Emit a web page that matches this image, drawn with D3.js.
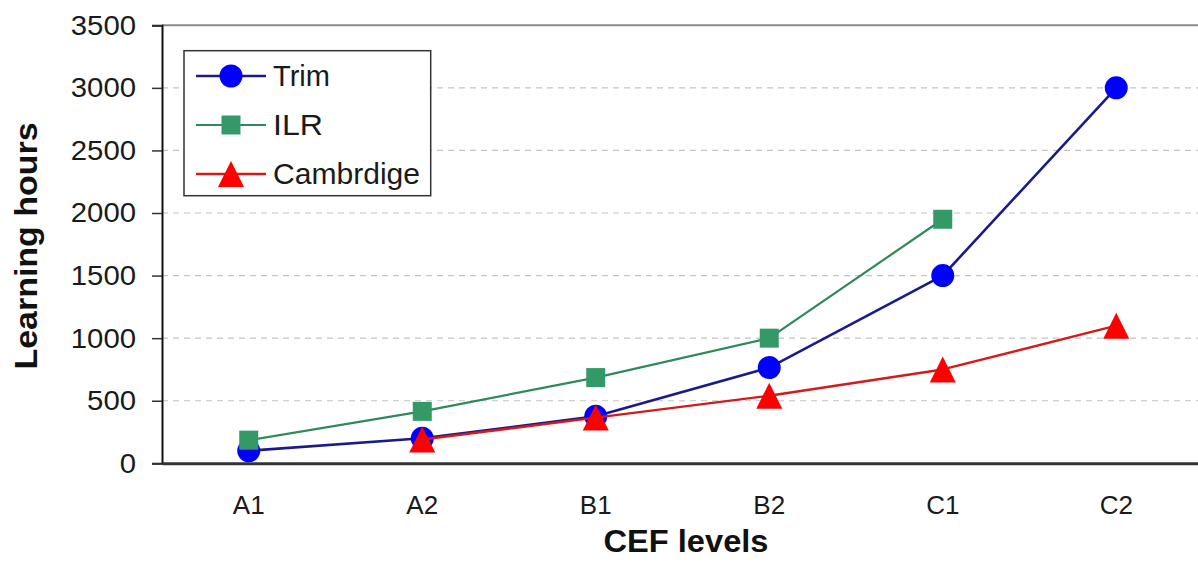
<!DOCTYPE html>
<html>
<head>
<meta charset="utf-8">
<script src="https://cdn.jsdelivr.net/npm/d3@7"></script>
<style>
  html, body { margin: 0; padding: 0; background: #fff; }
  svg { display: block; font-family: "Liberation Sans", Arial, sans-serif; }
</style>
</head>
<body>
<svg id="chart" width="1198" height="562"></svg>
<script>
const categories = ["A1", "A2", "B1", "B2", "C1", "C2"];
const trim = [100, 200, 375, 765, 1500, 3000];
const ilr = [185, 415, 685, 1000, 1950, null];
const cambridge = [null, 190, 365, 540, 750, 1100];
const yTicks = [0, 500, 1000, 1500, 2000, 2500, 3000, 3500];
const seriesNames = ["Trim", "ILR", "Cambrdige"];

(function () {
const svg = d3.select("#chart");
const plotL = 162, plotR = 1203, plotT = 25.3, plotB = 463.3;

const x = d3.scaleBand().domain(categories).range([plotL, plotR]);
const y = d3.scaleLinear().domain([0, 3500]).range([plotB, plotT]);
const cx = c => x(c) + x.bandwidth() / 2;

// gridlines
svg.append("g").selectAll("line")
  .data(yTicks.filter(t => t > 0 && t < 3500))
  .join("line")
  .attr("x1", plotL).attr("x2", 1198)
  .attr("y1", d => y(d)).attr("y2", d => y(d))
  .attr("stroke", "#c4c4c4").attr("stroke-width", 1.2)
  .attr("stroke-dasharray", "6,5");

// top border
svg.append("line")
  .attr("x1", plotL).attr("x2", 1198)
  .attr("y1", y(3500)).attr("y2", y(3500))
  .attr("stroke", "#8a8a8a").attr("stroke-width", 2);

// y axis
const yAxis = d3.axisLeft(y).tickValues(yTicks).tickSize(10).tickPadding(16).tickFormat(d3.format("d"));
const gy = svg.append("g").attr("transform", `translate(${plotL},0)`).call(yAxis);
gy.select(".domain").attr("stroke", "#111").attr("stroke-width", 2);
gy.selectAll(".tick line").attr("stroke", "#333").attr("stroke-width", 1.5);
gy.selectAll(".tick text").attr("font-size", 28).attr("fill", "#1a1a1a")
  .attr("font-family", "Liberation Sans, Arial, sans-serif")
  .attr("textLength", d => String(d).length * 16.3).attr("lengthAdjust", "spacingAndGlyphs");

// x axis
const xAxis = d3.axisBottom(x).tickSize(0).tickPadding(32);
const gx = svg.append("g").attr("transform", `translate(0,${plotB})`).call(xAxis);
gx.select(".domain").attr("stroke", "#333").attr("stroke-width", 3);
gx.selectAll(".tick text").attr("font-size", 26).attr("fill", "#1a1a1a")
  .attr("font-family", "Liberation Sans, Arial, sans-serif");

// axis titles
svg.append("text")
  .attr("x", 686).attr("y", 552)
  .attr("text-anchor", "middle")
  .attr("font-size", 31).attr("font-weight", "bold").attr("fill", "#111")
  .attr("textLength", 165).attr("lengthAdjust", "spacingAndGlyphs")
  .text("CEF levels");
svg.append("text")
  .attr("transform", "translate(37,246) rotate(-90)")
  .attr("text-anchor", "middle")
  .attr("font-size", 31).attr("font-weight", "bold").attr("fill", "#111")
  .attr("textLength", 247).attr("lengthAdjust", "spacingAndGlyphs")
  .text("Learning hours");

const series = [
  { name: seriesNames[0], values: trim, line: "#1a1a8a", fill: "#0000ff", width: 2.6, shape: d3.symbolCircle, size: Math.PI * 11.5 * 11.5 },
  { name: seriesNames[1], values: ilr, line: "#2f8a5a", fill: "#339966", width: 2.2, shape: d3.symbolSquare, size: 19 * 19 },
  { name: seriesNames[2], values: cambridge, line: "#d41a1a", fill: "#ff0000", width: 2.4, shape: "tri", size: 26 }
];

const lineGen = d3.line()
  .defined(d => d.v != null)
  .x(d => cx(d.c)).y(d => y(d.v));

function markerPath(s) {
  if (s.shape === "tri") {
    const w = s.size, h = 26;
    return `M0,${-h/2}L${w/2},${h/2}L${-w/2},${h/2}Z`;
  }
  return d3.symbol().type(s.shape).size(s.size)();
}

series.forEach(s => {
  const pts = categories.map((c, i) => ({ c, v: s.values[i] }));
  const g = svg.append("g");
  g.append("path").attr("d", lineGen(pts))
    .attr("fill", "none").attr("stroke", s.line).attr("stroke-width", s.width)
    .attr("stroke-linejoin", "round");
  g.selectAll("path.m").data(pts.filter(p => p.v != null)).join("path")
    .attr("class", "m")
    .attr("d", markerPath(s))
    .attr("transform", p => `translate(${cx(p.c)},${y(p.v)})`)
    .attr("fill", s.fill);
});

// legend
const lg = svg.append("g");
lg.append("rect").attr("x", 184).attr("y", 50.7).attr("width", 246.7).attr("height", 145)
  .attr("fill", "#fff").attr("stroke", "#333").attr("stroke-width", 1.5);
const rowsY = [76, 125, 174];
const legendLen = [57, 50, 147];
series.forEach((s, i) => {
  const ry = rowsY[i];
  lg.append("line").attr("x1", 196).attr("x2", 266).attr("y1", ry).attr("y2", ry)
    .attr("stroke", s.line).attr("stroke-width", s.width);
  lg.append("path").attr("d", markerPath(s)).attr("transform", `translate(231,${ry})`).attr("fill", s.fill);
  lg.append("text").attr("x", 273).attr("y", ry + 10)
    .attr("font-size", 29).attr("fill", "#1a1a1a")
    .attr("textLength", legendLen[i]).attr("lengthAdjust", "spacingAndGlyphs")
    .text(s.name);
});
})();
</script>
</body>
</html>
